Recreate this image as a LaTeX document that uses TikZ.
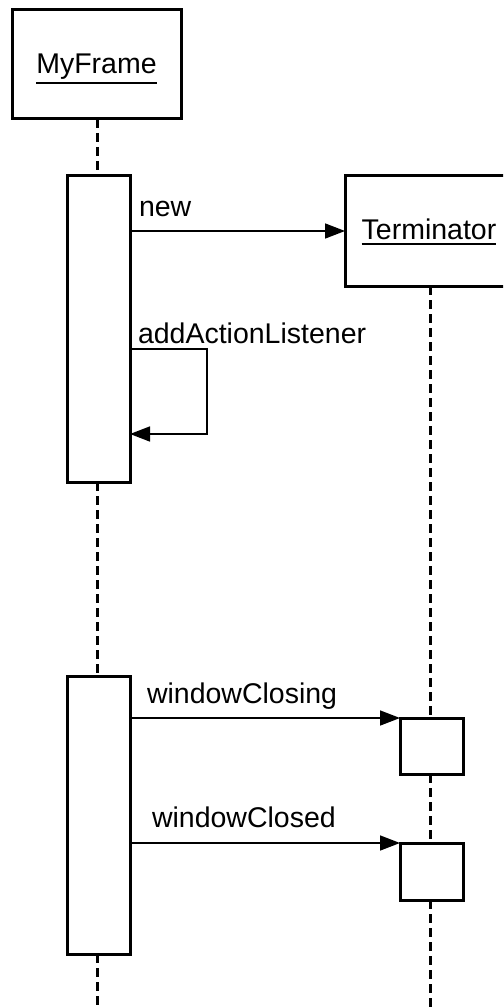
\documentclass[tikz,border=0pt]{standalone}
\usepackage{fontspec}
\setmainfont{Liberation Sans}
\usetikzlibrary{arrows.meta,calc}
\newcommand\ulined[1]{\leavevmode\vtop{\hbox{#1}\kern3pt\hrule height 1.6pt}}
\begin{document}
\begin{tikzpicture}[x=1pt,y=-1pt,
  every node/.style={inner sep=0pt,outer sep=0pt,font=\fontsize{28.5}{34}\selectfont},
  objbox/.style={draw,line width=3pt,fill=white,rectangle,text height=21pt,text depth=3pt},
  actbox/.style={draw,line width=3pt,fill=white,rectangle,minimum width=63pt},
  life/.style={line width=3pt,dash pattern=on 9pt off 5pt},
  msg/.style={line width=1.6pt,-{Triangle[length=20pt,width=15pt]}},
  lbl/.style={anchor=base west}]
\useasboundingbox (0,0) rectangle (503,1008);
\fill[white] (0,0) rectangle (503,1008);
\clip (0,0) rectangle (503,1008);
% objects
\node[objbox,minimum width=169pt,minimum height=109pt] (mf) at (96.5,64.5) {\ulined{MyFrame}};
\node[objbox,minimum width=168pt,minimum height=110pt] (term) at (429,231) {\ulined{Terminator}};
% activations
\node[actbox,minimum height=306pt] (act1) at (98.5,329) {};
\node[actbox,minimum height=278pt] (act2) at (98.5,815) {};
\node[actbox,minimum height=56pt] (act3) at (431.5,746) {};
\node[actbox,minimum height=57pt] (act4) at (431.5,871.5) {};
\coordinate (mfend) at (97,1008);
\coordinate (termend) at (430,1008);
% lifelines
\draw[life] (mf.south -| 97,0) -- (act1.north -| 97,0);
\draw[life] (act1.south -| 97,0) -- (act2.north -| 97,0);
\draw[life] (act2.south -| 97,0) -- (mfend);
\draw[life] (term.south -| 430,0) -- (act3.north -| 430,0);
\draw[life] (act3.south -| 430,0) -- (act4.north -| 430,0);
\draw[life] (act4.south -| 430,0) -- (termend);
% messages
\draw[msg] (act1.east |- term.west) -- (term.west);
\node[lbl] (lnew) at (139,217) {new};
\draw[msg] ([yshift=-173pt]act1.north east) -- ++(77,0) -- ++(0,85) -- ([yshift=-258pt]act1.north east);
\node[lbl] (ladd) at (138,343) {addActionListener};
\draw[msg] (act2.east |- act3.north west) -- (act3.north west);
\node[lbl] (lclosing) at (147,703) {windowClosing};
\draw[msg] (act2.east |- act4.north west) -- (act4.north west);
\node[lbl] (lclosed) at (152,827) {windowClosed};
\end{tikzpicture}
\end{document}
